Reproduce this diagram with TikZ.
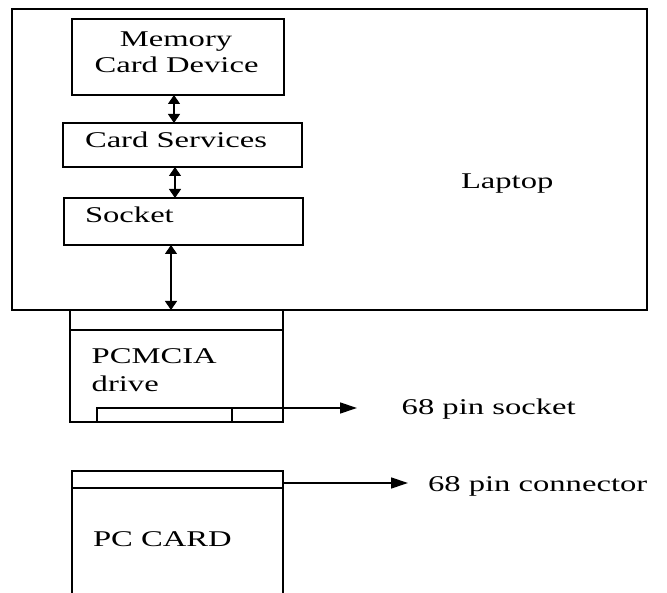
\documentclass[tikz,border=0pt]{standalone}
\usepackage{fontspec}
\setmainfont{Liberation Serif}[FakeStretch=1.45]
\usetikzlibrary{arrows.meta}

\begin{document}
\begin{tikzpicture}[x=1pt,y=-1pt,
  every node/.style={inner sep=0pt, outer sep=0pt},
  box/.style={draw, line width=1.3pt, rectangle},
  lbl/.style={anchor=base west, font=\fontsize{22.5}{26.5}\selectfont},
  clbl/.style={lbl, anchor=base},
  dbl/.style={line width=1.3pt,
    {Triangle[length=9pt,width=12pt]}-{Triangle[length=9pt,width=12pt]}},
  outarrow/.style={line width=1.3pt, -{Triangle[length=17pt,width=11pt]}}]

\useasboundingbox (0,0) rectangle (667,593);

% laptop with its software stack
\node[box, minimum width=635pt, minimum height=301pt] (laptop) at (329.5,159.5) {};
\node[box, minimum width=212pt, minimum height=76pt]  (mem)  at (178,57) {};
\node[box, minimum width=239pt, minimum height=44pt]  (cs)   at (182.5,145) {};
\node[box, minimum width=239pt, minimum height=47pt]  (sock) at (183.5,221.5) {};

\node[clbl] (tmem1) at (176,46.7) {Memory};
\node[clbl] (tmem2) at (176.5,73) {Card Device};
\node[lbl] (tcs)   at (85,147.7)  {Card Services};
\node[lbl] (tsock) at (85,222.7)  {Socket};
\node[lbl] (tlap)  at (461,189)   {Laptop};

\draw[dbl] ([xshift=-4pt]mem.south) -- ([xshift=-8.5pt]cs.north);
\draw[dbl] ([xshift=-7.5pt]cs.south) -- ([xshift=-8.5pt]sock.north);
\draw[dbl] ([xshift=-12.5pt]sock.south) -- ([xshift=-158.5pt]laptop.south);

% PCMCIA drive with its 68 pin socket
\node[box, minimum width=213pt, minimum height=112pt] (drive) at (176.5,366) {};
\draw[line width=1.3pt] (drive.west |- 0,330) -- (drive.east |- 0,330);
\node[box, minimum width=186pt, minimum height=14pt] (slot) at (190,415) {};
\draw[line width=1.3pt] (slot.north -| 232,0) -- (slot.south -| 232,0);
\node[lbl] (tpc1) at (91.7,363.3) {PCMCIA};
\node[lbl] (tpc2) at (91.7,391.7) {drive};

\coordinate (sockend) at (357,408);
\draw[outarrow] (slot.north east) -- (sockend);
\node[lbl] (t68s) at (401.7,414.5) {68 pin socket};

% PC card with its 68 pin connector
\begin{scope}
\clip (0,0) rectangle (667,593);
\node[box, minimum width=211pt, minimum height=140pt] (pc) at (177.5,541) {};
\end{scope}
\draw[line width=1.3pt] (pc.west |- 0,488) -- (pc.east |- 0,488);
\node[lbl] (tpcc) at (93,546.7) {PC CARD};

\coordinate (connend) at (408,483);
\draw[outarrow] (pc.east |- connend) -- (connend);
\node[lbl] (t68c) at (428,491.7) {68 pin connector};

\end{tikzpicture}
\end{document}
